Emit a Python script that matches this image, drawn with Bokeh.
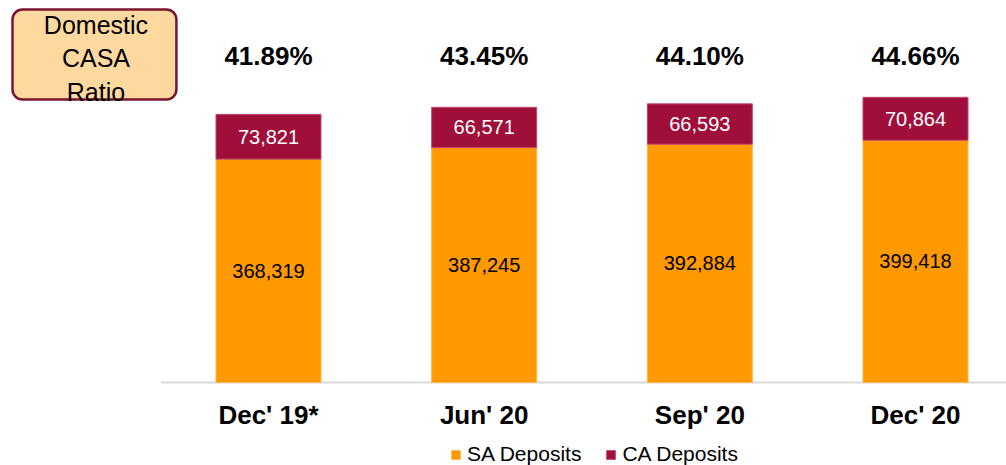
from bokeh.plotting import figure
from bokeh.models import (ColumnDataSource, Range1d, Legend, LegendItem,
                          BoxAnnotation)
from bokeh.core.properties import value
from bokeh.embed import file_html
from bokeh.resources import INLINE

categories = ["Dec' 19*", "Jun' 20", "Sep' 20", "Dec' 20"]
sa_deposits = [368319, 387245, 392884, 399418]
ca_deposits = [73821, 66571, 66593, 70864]
casa_ratio = ["41.89%", "43.45%", "44.10%", "44.66%"]

FONT = "Liberation Sans"
SA_COLOR = "#FF9900"
CA_COLOR = "#A00E3A"

x = list(range(len(categories)))
src = ColumnDataSource(dict(
    x=x,
    cat=categories,
    sa=sa_deposits,
    ca=ca_deposits,
    sa_mid=[s / 2 for s in sa_deposits],
    ca_mid=[s + c / 2 for s, c in zip(sa_deposits, ca_deposits)],
    sa_lbl=[f"{v:,}" for v in sa_deposits],
    ca_lbl=[f"{v:,}" for v in ca_deposits],
    pct=casa_ratio,
))

W, H = 1006, 465
px_per_unit = 215.67
x_start = -268 / px_per_unit
x_end = len(categories) - 1 + (W - 915) / px_per_unit
upp = 1649  # value units per pixel
base_px = 382
y_start = -(H - base_px) * upp
y_end = base_px * upp

p = figure(width=W, height=H, output_backend="svg", toolbar_location=None,
           x_axis_type=None, y_axis_type=None,
           x_range=Range1d(x_start, x_end), y_range=Range1d(y_start, y_end),
           min_border=0, outline_line_color=None)
p.xgrid.visible = False
p.ygrid.visible = False

# baseline (category axis line)
p.segment(x0=[-0.5], y0=[0], x1=[x_end], y1=[0], line_color="#D9D9D9",
          line_width=2)

rs = p.vbar_stack(["sa", "ca"], x="x", width=0.487, source=src,
                  fill_color=[SA_COLOR, CA_COLOR],
                  line_color=["#FFB84D", "#C24A6E"], line_width=1)

p.text(x="x", y="sa_mid", text="sa_lbl", source=src, text_align="center",
       text_baseline="middle", text_font=value(FONT), text_font_size="20px",
       text_color="black")
p.text(x="x", y="ca_mid", text="ca_lbl", source=src, text_align="center",
       text_baseline="middle", text_font=value(FONT), text_font_size="20px",
       text_color="white")

row_y = 537800
p.text(x="x", y=row_y, text="pct", source=src, text_align="center",
       text_baseline="middle", text_font=value(FONT), text_font_size="26px",
       text_font_style="bold", text_color="black")

cat_y = -32 * upp
p.text(x="x", y=cat_y, text="cat", source=src, text_align="center",
       text_baseline="middle", text_font=value(FONT), text_font_size="26px",
       text_font_style="bold", text_color="black")

# title box
box = BoxAnnotation(left=-1.187, right=-0.427, top=615000, bottom=466700,
                    fill_color="#FDD9A0", fill_alpha=1.0,
                    line_color="#7A1530", line_alpha=1.0, line_width=2.5,
                    border_radius=10, level="underlay")
p.add_layout(box)
p.text(x=[-0.80], y=[row_y - 2 * upp], text=["Domestic\nCASA\nRatio"],
       text_align="center", text_baseline="middle", text_font=value(FONT),
       text_font_size="25px", text_color="black", text_line_height=1.2)

legend = Legend(items=[LegendItem(label="SA Deposits", renderers=[rs[0]]),
                       LegendItem(label="CA Deposits", renderers=[rs[1]])],
                orientation="horizontal", location=(450, -1),
                glyph_width=11, glyph_height=11, label_standoff=6, spacing=24,
                label_text_font=FONT, label_text_font_size="21px",
                label_text_color="black", padding=0, margin=0,
                border_line_color=None, background_fill_alpha=0)
p.add_layout(legend)

open("out.html", "w").write(file_html(p, INLINE))
